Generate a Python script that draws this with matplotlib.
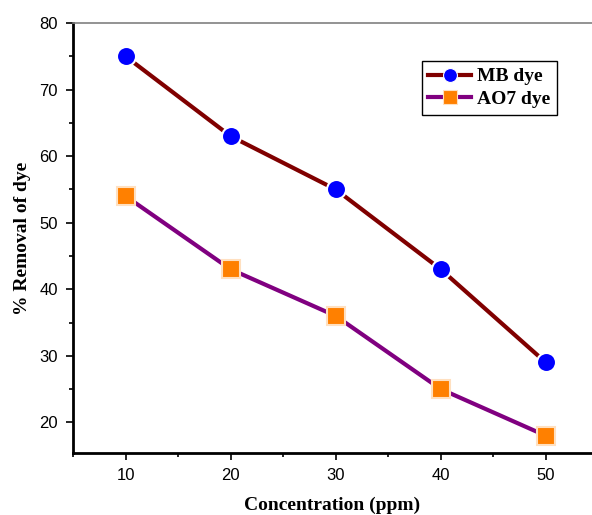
import matplotlib as mpl
import matplotlib.pyplot as plt
import numpy as np
from matplotlib.ticker import MultipleLocator

concentration = [10, 20, 30, 40, 50]
mb_removal = [75, 63, 55, 43, 29]
ao7_removal = [54, 43, 36, 25, 18]

fig = plt.figure(figsize=(5.92, 5.15), dpi=100)
ax = fig.add_axes([0.1233, 0.1204, 0.8767, 0.8349])

ax.plot(concentration, mb_removal, color="#800000", linewidth=3, marker="o",
        markersize=13.7, markerfacecolor="#0000ff", markeredgecolor="white",
        markeredgewidth=1.5, label="MB dye", zorder=3)
ax.plot(concentration, ao7_removal, color="#800080", linewidth=3, marker="s",
        markersize=12.3, markerfacecolor="#ff8000", markeredgecolor="#ffe0c0",
        markeredgewidth=1.5, label="AO7 dye", zorder=3)

ax.set_xlim(5, 54.4)
ax.set_ylim(15.4, 80)
ax.xaxis.set_major_locator(MultipleLocator(10))
ax.xaxis.set_minor_locator(MultipleLocator(5))
ax.yaxis.set_major_locator(MultipleLocator(10))
ax.yaxis.set_minor_locator(MultipleLocator(5))
ax.tick_params(which="major", direction="out", length=5, width=1.2, labelsize=12,
               pad=6)
ax.tick_params(which="minor", direction="out", length=3, width=1.2)
for lab in ax.get_xticklabels() + ax.get_yticklabels():
    lab.set_family("Liberation Sans")

ax.spines["left"].set_linewidth(2)
ax.spines["bottom"].set_linewidth(2)
ax.spines["right"].set_visible(False)
ax.spines["top"].set_color("#808080")
ax.spines["top"].set_linewidth(1.2)

ax.set_xlabel("Concentration (ppm)", family="Liberation Serif", fontweight="bold",
              fontsize=14, labelpad=10)
ax.set_ylabel("% Removal of dye", family="Liberation Serif", fontweight="bold",
              fontsize=14, labelpad=6)

leg = ax.legend(loc="upper right", bbox_to_anchor=(0.9326, 0.9116), borderaxespad=0,
                fancybox=False, edgecolor="black", framealpha=1, handlelength=2.2,
                borderpad=0.35, labelspacing=0.25, handletextpad=0.3,
                prop={"family": "Liberation Serif", "weight": "bold", "size": 14})
leg.get_frame().set_linewidth(1)
for h in leg.legend_handles:
    h.set_markeredgewidth(0.8)
    h.set_markersize(10)

fig.savefig("out.png", dpi=100)
